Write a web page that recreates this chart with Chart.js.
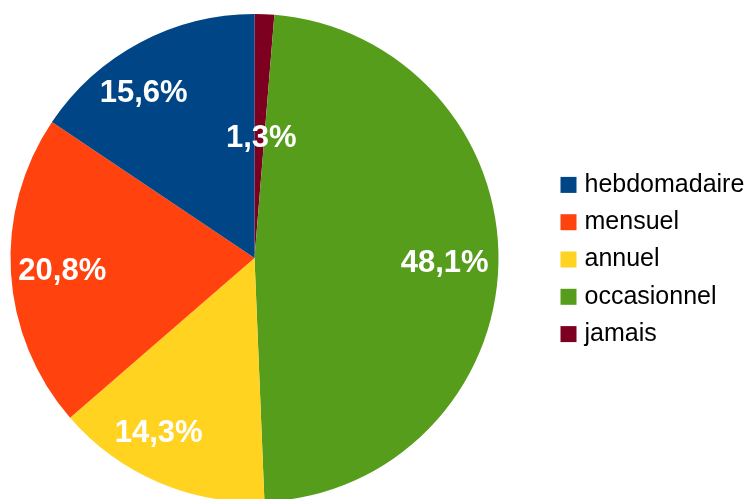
<!DOCTYPE html>
<html lang="fr">
<head>
<meta charset="UTF-8">
<title>Fréquence</title>
<script src="https://cdn.jsdelivr.net/npm/chart.js@4"></script>
<style>
  html, body { margin: 0; padding: 0; background: #fff; overflow: hidden; }
  #wrap { position: relative; width: 747px; height: 504px; }
</style>
</head>
<body>
<div id="wrap"><canvas id="chart"></canvas></div>
<script>
const categories = ['hebdomadaire', 'mensuel', 'annuel', 'occasionnel', 'jamais'];
const shares = [15.6, 20.8, 14.3, 48.1, 1.3];
const colors = ['#004586', '#ff420e', '#ffd320', '#579d1c', '#7e0021'];

// the original runs anticlockwise from 12 o'clock, Chart.js goes clockwise
const order = categories.map((_, i) => i).reverse();

const sliceLabels = {
  id: 'sliceLabels',
  afterDatasetsDraw(chart) {
    const ctx = chart.ctx;
    const meta = chart.getDatasetMeta(0);
    ctx.save();
    ctx.font = 'bold 31px "Liberation Sans", Arial, sans-serif';
    ctx.fillStyle = '#fff';
    ctx.textAlign = 'center';
    ctx.textBaseline = 'middle';
    meta.data.forEach((arc, i) => {
      const p = arc.getProps(['x', 'y', 'startAngle', 'endAngle', 'outerRadius']);
      const mid = (p.startAngle + p.endAngle) / 2;
      const span = p.endAngle - p.startAngle;
      const text = chart.data.datasets[0].data[i].toFixed(1).replace('.', ',') + '%';
      const w = ctx.measureText(text).width;
      const k = span < 0.2 ? 0.5 : 0.775;
      const dx = Math.cos(mid), dy = Math.sin(mid);
      let x = p.x + dx * p.outerRadius * k;
      const y = p.y + dy * p.outerRadius * k + 2;
      // push diagonal labels a bit outward, like the office suite does
      x += Math.sign(dx) * w * 0.25 * Math.min(1, 1.3 * Math.abs(Math.sin(2 * mid)));
      ctx.fillText(text, x, y);
    });
    ctx.restore();
  }
};

const sideLegend = {
  id: 'sideLegend',
  afterDraw(chart) {
    const { ctx, chartArea } = chart;
    const rowGap = 37.3;
    const boxX = chartArea.right + 62;
    const top = (chartArea.top + chartArea.bottom) / 2 - rowGap * (categories.length - 1) / 2 + 1.5;
    ctx.save();
    ctx.font = '25px "Liberation Sans", Arial, sans-serif';
    ctx.textBaseline = 'middle';
    ctx.textAlign = 'left';
    categories.forEach((name, i) => {
      const y = top + i * rowGap;
      ctx.fillStyle = colors[i];
      ctx.fillRect(boxX, y - 8, 16, 16);
      ctx.fillStyle = '#000';
      ctx.fillText(name, boxX + 24, y);
    });
    ctx.restore();
  }
};

new Chart(document.getElementById('chart'), {
  type: 'pie',
  data: {
    labels: order.map(i => categories[i]),
    datasets: [{
      data: order.map(i => shares[i]),
      backgroundColor: order.map(i => colors[i]),
      borderWidth: 0
    }]
  },
  options: {
    responsive: true,
    maintainAspectRatio: false,
    animation: false,
    layout: { padding: { left: 10.5, right: 248.5, top: 14, bottom: 2 } },
    plugins: {
      legend: { display: false },
      tooltip: { enabled: false }
    }
  },
  plugins: [sliceLabels, sideLegend]
});
</script>
</body>
</html>
